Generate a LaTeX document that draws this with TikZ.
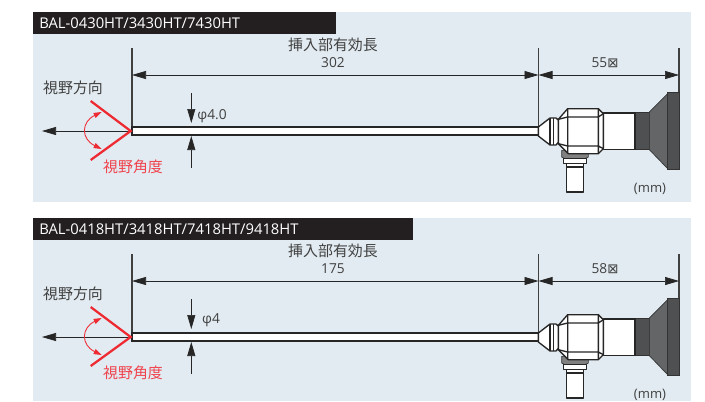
\documentclass[tikz,border=0pt]{standalone}
\usepackage{fontspec}
\setmainfont{Open Sans}
\newfontfamily\cjkjp{Noto Sans CJK JP}
\newfontfamily\symfont{DejaVu Sans}
\usetikzlibrary{arrows.meta}
\definecolor{panelbg}{HTML}{E2EBF1}
\definecolor{headerbk}{HTML}{231F20}
\definecolor{redfov}{HTML}{EE2A33}
\definecolor{redlbl}{HTML}{F0424C}
\definecolor{txtgr}{HTML}{404040}
\definecolor{darkrub}{HTML}{4E5052}
\definecolor{midrub}{HTML}{636567}
\tikzset{
  x=0.75pt,y=-0.75pt,
  panel/.style={fill=panelbg,draw=none},
  hdr/.style={fill=headerbk,draw=none},
  hdrtext/.style={text=white,anchor=west,inner sep=0pt,font=\fontsize{11.1pt}{12pt}\selectfont},
  lbl/.style={text=txtgr,inner sep=0pt,font=\fontsize{10.3pt}{12pt}\selectfont},
  jp/.style={text=txtgr,inner sep=0pt,font=\fontsize{11.2pt}{12pt}\cjkjp},
  jpred/.style={text=redlbl,inner sep=0pt,font=\fontsize{11.2pt}{12pt}\cjkjp},
  ext/.style={draw=txtgr,line width=0.85pt},
  dimline/.style={draw=black!85,line width=0.55pt,{Triangle[length=10.5pt,width=6pt]}-{Triangle[length=10.5pt,width=6pt]}},
  leadin/.style={draw=black!85,line width=0.55pt,-{Triangle[length=10.5pt,width=6pt]}},
  vee/.style={draw=redfov,line width=1.7pt},
  fovarc/.style={draw=redfov,line width=0.65pt,{Triangle[length=6pt,width=4pt]}-{Triangle[length=6pt,width=4pt]}},
  shaft/.style={fill=white,draw=black!85,line width=1pt},
  part/.style={fill=white,draw=black!85,line width=1pt,line join=round},
  partd/.style={fill=darkrub,draw=black!80,line width=0.5pt},
  partm/.style={fill=midrub,draw=black!80,line width=0.5pt},
}
\newcommand{\scopehead}{%
  \begin{scope}[shift={(520,28.33)},x=0.25pt,y=-0.25pt]
    % ocular
    \path[partd] (345,215) rectangle (388,328);
    \path[partm] (388,215) -- (443,160) -- (443,385) -- (388,328) -- cycle;
    \path[partd] (443,157) rectangle (478,387);
    \path[part] (250,218) rectangle (345,328);
    % light post
    \path[partm,fill=gray] (125,330) -- (205,330) -- (205,350) -- (195,355) -- (135,355) -- (125,350) -- cycle;
    \path[part] (140,378) rectangle (190,455);
    \path[part] (130,355) -- (200,355) -- (200,370) -- (190,370) -- (190,380) -- (140,380) -- (140,370) -- (130,370) -- cycle;
    \draw[black!85,line width=1pt] (135,370) -- (195,370);
    % taper
    \path[part] (55,260) -- (90,233) -- (108,233) -- (116,240) -- (116,305) -- (108,314) -- (90,314) -- (55,287) -- cycle;
    \draw[black!85,line width=1pt] (90,233) -- (90,314) (100,233) -- (100,314);
    % body
    \path[part] (115,237) -- (143,205) -- (235,205) -- (250,220) -- (250,325) -- (235,340) -- (145,340) -- (115,310) -- cycle;
    \draw[black!85,line width=1pt] (143,205) -- (143,340) (235,205) -- (235,340)
      (115,237) -- (143,230) -- (235,230) -- (250,220)
      (115,310) -- (143,317) -- (235,317) -- (250,325);
  \end{scope}}
\newcommand{\lensrow}[8]{% y-offset, model, header right, length, tail, dia, dia x, dia y
  \begin{scope}[yshift=#1]
    \fill[hdr] (33,0) rectangle (#3,22);
    \node[hdrtext] (model) at (39,11.5) {#2};
    \coordinate (extTL) at (132,36);
    \coordinate (extTB) at (132,119);
    \coordinate (extML) at (538.5,36);
    \coordinate (extMB) at (538.5,118);
    \coordinate (extRT) at (679,36);
    \coordinate (extRB) at (679,80);
    \coordinate (dimA) at (132,63);
    \coordinate (dimB) at (538.5,63);
    \coordinate (dimC) at (679,63);
    \draw[ext] (extTL) -- (extTB);
    \draw[ext] (extML) -- (extMB);
    \draw[ext] (extRT) -- (extRB);
    \draw[dimline] (dimA) -- (dimB);
    \draw[dimline] (dimB) -- (dimC);
    \node[jp] (ttl) at (333,33) {挿入部有効長};
    \node[lbl] (len) at (333,51) {#4};
    \node[lbl] (tail) at (605,51) {#5{\symfont\fontsize{10pt}{11pt}\selectfont ⊠}};
    % shaft
    \path[shaft] (132,115) rectangle (540,123);
    \node[lbl] (dia) at (#7,#8) {#6};
    % dia arrows
    \coordinate (upA) at (191.3,81);
    \coordinate (upB) at (191.3,111);
    \coordinate (loA) at (191.3,156);
    \coordinate (loB) at (191.3,124);
    \draw[leadin] (upA) -- (upB);
    \draw[leadin] (loA) -- (loB);
    % field of view
    \coordinate (apex) at (130.7,119);
    \coordinate (veeT) at (90.7,89);
    \coordinate (veeB) at (90.7,148);
    \coordinate (tip) at (42,119);
    \coordinate (arcT) at (101.7,100);
    \coordinate (arcB) at (101.7,137);
    \draw[leadin] (apex) -- (tip);
    \draw[vee] (veeT) -- (apex) -- (veeB);
    \draw[fovarc] (arcT) .. controls (81,110) and (81,127) .. (arcB);
    \node[jp] (dir) at (73,76) {視野方向};
    \node[jpred] (ang) at (133,155) {視野角度};
    \node[lbl,font=\fontsize{9.8pt}{11pt}\selectfont] (unit) at (650,176.5) {(mm)};
    \scopehead
  \end{scope}}
\begin{document}
\begin{tikzpicture}
  \useasboundingbox (0,0) rectangle (705,401);
  \fill[white] (0,0) rectangle (705,401);
  \path[panel] (33,12) rectangle (691,202);
  \path[panel] (33,218) rectangle (691,401);
  \lensrow{-9pt}{BAL-0430HT/3430HT/7430HT}{336}{302}{55}{φ4.0}{212}{104}
  \lensrow{-163.5pt}{BAL-0418HT/3418HT/7418HT/9418HT}{413}{175}{58}{φ4}{211}{102}
\end{tikzpicture}
\end{document}
